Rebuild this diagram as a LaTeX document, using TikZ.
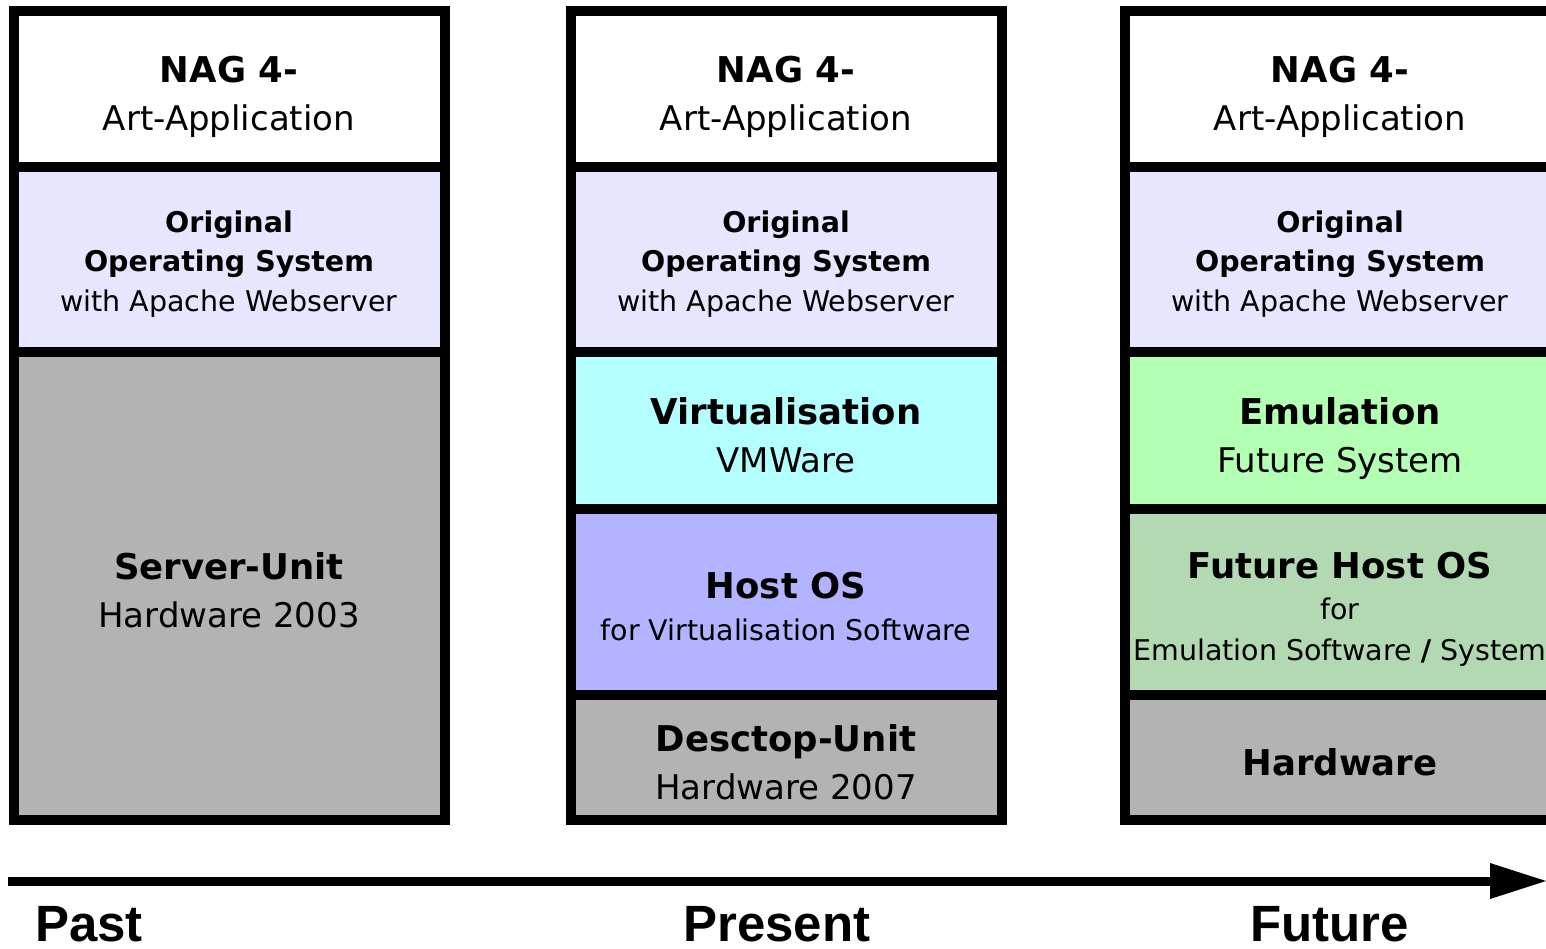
\documentclass[tikz,border=0pt]{standalone}
\usepackage{fontspec}
\setmainfont{DejaVu Sans}
\newfontfamily\erafont{Liberation Sans}
\usepackage{tikz}
\usetikzlibrary{positioning, arrows.meta}

\definecolor{oslav}{HTML}{E6E6FF}
\definecolor{virtcyan}{HTML}{B3FFFF}
\definecolor{hostblue}{HTML}{B3B3FF}
\definecolor{hwgray}{HTML}{B3B3B3}
\definecolor{emugreen}{HTML}{B3FFB3}
\definecolor{futgreen}{HTML}{B3D9B3}

% struts keep the text at the same place in every layer
\newcommand{\uprule}{\rule{0pt}{45pt}}
\newcommand{\osrule}{\rule{0pt}{34pt}}
\newcommand{\dnrule}{\rule[-10pt]{0pt}{10pt}}
\newcommand{\hd}[1]{{\fontsize{35.5}{48}\selectfont\bfseries #1}}

\tikzset{
  layer/.style={draw=black, line width=10pt, inner sep=0pt, outer sep=0pt,
    minimum width=431pt, align=center, font=\fontsize{34}{48}\selectfont},
  small/.style={font=\fontsize{28.5}{39.5}\selectfont},
  era/.style={anchor=base west, inner sep=0pt,
    font=\erafont\bfseries\fontsize{51}{51}\selectfont},
}

\begin{document}
\begin{tikzpicture}[x=1pt, y=-1pt]
  \useasboundingbox (0,0) rectangle (1546,948);

  % Past
  \node[layer, fill=white, minimum height=156pt, anchor=north] (pastapp) at (229,11)
    {\uprule\hd{NAG 4-}\\Art-Application\dnrule};
  \node[layer, small, fill=oslav, minimum height=185pt, below=0pt of pastapp] (pastos)
    {\osrule\textbf{Original}\\\textbf{Operating System}\\with Apache Webserver\dnrule};
  \node[layer, fill=hwgray, minimum height=468pt, below=0pt of pastos] (pastunit)
    {\uprule\hd{Server-Unit}\\Hardware 2003\dnrule};

  % Present
  \node[layer, fill=white, minimum height=156pt, anchor=north] (nowapp) at (786,11)
    {\uprule\hd{NAG 4-}\\Art-Application\dnrule};
  \node[layer, small, fill=oslav, minimum height=185pt, below=0pt of nowapp] (nowos)
    {\osrule\textbf{Original}\\\textbf{Operating System}\\with Apache Webserver\dnrule};
  \node[layer, fill=virtcyan, minimum height=157pt, below=0pt of nowos] (nowvirt)
    {\uprule\hd{Virtualisation}\\VMWare\dnrule};
  \node[layer, fill=hostblue, minimum height=186pt, below=0pt of nowvirt,
    font=\fontsize{28.5}{42}\selectfont] (nowhost)
    {\uprule\hd{Host OS}\\for Virtualisation Software\dnrule};
  \node[layer, fill=hwgray, minimum height=125pt, below=0pt of nowhost] (nowunit)
    {\uprule\hd{Desctop-Unit}\\Hardware 2007\dnrule};

  % Future
  \node[layer, fill=white, minimum height=156pt, anchor=north] (futapp) at (1340,11)
    {\uprule\hd{NAG 4-}\\Art-Application\dnrule};
  \node[layer, small, fill=oslav, minimum height=185pt, below=0pt of futapp] (futos)
    {\osrule\textbf{Original}\\\textbf{Operating System}\\with Apache Webserver\dnrule};
  \node[layer, fill=emugreen, minimum height=157pt, below=0pt of futos] (futemu)
    {\uprule\hd{Emulation}\\Future System\dnrule};
  \node[layer, fill=futgreen, minimum height=186pt, below=0pt of futemu,
    font=\fontsize{28.5}{41}\selectfont] (futhost)
    {\uprule\hd{Future Host OS}\\for\\Emulation Software \textbf{/} System\dnrule};
  \node[layer, fill=hwgray, minimum height=125pt, below=0pt of futhost] (futhw)
    {\uprule\hd{Hardware}\dnrule};

  % Timeline
  \coordinate (tstart) at (8,881);
  \coordinate (tend) at (1546,881);
  \draw[line width=9pt, -{Triangle[length=56pt, width=36pt, line width=0pt]}] (tstart) -- (tend);

  \node[era] (past) at (35,941) {Past};
  \node[era] (present) at (683,941) {Present};
  \node[era] (future) at (1250,941) {Future};
\end{tikzpicture}
\end{document}
